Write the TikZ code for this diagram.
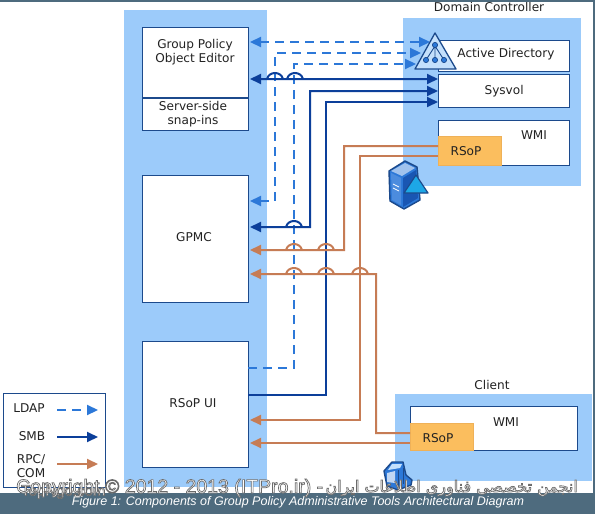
\documentclass[tikz,border=0pt]{standalone}
\usepackage{fontspec}
\setmainfont{DejaVu Sans}
\newfontfamily\capfont{Liberation Sans}
\newfontfamily\arabicfont[Script=Arabic]{DejaVu Sans}
\TeXXeTstate=1
\usetikzlibrary{arrows.meta,calc}
\definecolor{areablue}{HTML}{9CCBFA}
\definecolor{navy}{HTML}{1C4A8C}
\definecolor{ldapc}{HTML}{2C78D8}
\definecolor{smbc}{HTML}{0C3F9A}
\definecolor{rpcc}{HTML}{C67C55}
\definecolor{rsopc}{HTML}{FBBE5E}
\definecolor{bandc}{HTML}{4E6B7E}
\definecolor{txtc}{HTML}{222222}
\tikzset{
  x=1pt,y=-1pt,
  >={Triangle[length=11pt,width=10pt]},
  area/.style={fill=areablue,draw=none},
  box/.style={draw=navy,line width=1.2pt,fill=white,inner sep=0pt,anchor=north west,text=txtc,font=\fontsize{12.1}{14}\selectfont,align=center},
  rsopbox/.style={draw=rsopc!80!brown,line width=1pt,fill=rsopc,inner sep=0pt,anchor=north west},
  lbl/.style={text=txtc,font=\fontsize{12.1}{14}\selectfont,align=center,inner sep=0pt},
  ldap/.style={draw=ldapc,line width=2.2pt,dash pattern=on 9pt off 6pt},
  smb/.style={draw=smbc,line width=2pt},
  rpc/.style={draw=rpcc,line width=2pt},
  wmark/.style={text=white,inner sep=0pt},
}
\newcommand{\hopat}[2]{-- (#1+8,#2) .. controls (#1+6,#2-8) and (#1-6,#2-8) .. (#1-8,#2)}
\newcommand{\outl}[1]{\special{pdf: code q 2 Tr 0.7 w 0.42 G}#1\special{pdf: code Q}}
\begin{document}
\begin{tikzpicture}
\useasboundingbox (0,0) rectangle (595,514);
\fill[white] (0,0) rectangle (595,514);
\fill[area] (124,10) rectangle (267,487);
\fill[area] (403,18) rectangle (581,186);
\fill[area] (395,394) rectangle (592,481);
% left boxes
\node[box,minimum width=106pt,minimum height=103pt] (gpo) at (142,27) {};
\node[lbl] (gpot) at (195,52.5) {Group Policy\\Object Editor};
\draw[navy,line width=1.2pt] (142,98) coordinate (dl) -- (248,98) coordinate (dr);
\node[lbl] (snap) at (193,114) {Server-side\\snap-ins};
\node[box,minimum width=106pt,minimum height=127pt] (gpmc) at (142,175) {};
\node[lbl] (gpmct) at (194,237) {GPMC};
\node[box,minimum width=106pt,minimum height=126pt] (rsopui) at (142,341) {};
\node[lbl] (rsopuit) at (193,403) {RSoP UI};
% DC
\node[lbl] (dc) at (489,7) {Domain Controller};
\node[box,minimum width=131pt,minimum height=31pt] (ad) at (438,40) {};
\node[lbl] (adt) at (506,54) {Active Directory};
\node[box,minimum width=131pt,minimum height=33pt] (sysvol) at (438,74) {Sysvol};
\node[box,minimum width=131pt,minimum height=45pt] (wmi) at (438,120) {};
\node[lbl] (wmit) at (534,135) {WMI};
\node[rsopbox,minimum width=63pt,minimum height=29pt] (rsop) at (438,136) {};
\node[lbl] (rsopt) at (466,151) {RSoP};
% client
\node[lbl] (cl) at (492,385) {Client};
\node[box,minimum width=167pt,minimum height=44pt] (cwmi) at (410,406) {};
\node[lbl] (cwmit) at (506,422) {WMI};
\node[rsopbox,minimum width=63pt,minimum height=27pt] (crsop) at (410,423) {};
\node[lbl] (crsopt) at (438,438) {RSoP};
% anchors on the boxes
\coordinate (g1) at (250,42);
\coordinate (g2) at (250,201);
\coordinate (g3) at (248,368);
\coordinate (s1) at (250,79);
\coordinate (s2) at (250,227);
\coordinate (s3) at (248,395);
\coordinate (r1) at (250,250);
\coordinate (r2) at (250,420);
\coordinate (r3) at (250,274);
\coordinate (r4) at (250,443);
\coordinate (t1) at (430,42);
\coordinate (t2) at (421,53);
\coordinate (t3) at (416,64);
% LDAP
\draw[ldap,<->] (g1) -- (t1);
\draw[ldap,<->] (g2) -- (275,201) -- (275,53) -- (t2);
\draw[ldap,->] (g3) -- (294,368) -- (294,64) -- (t3);
% SMB
\draw[smb,<->] (s1) \hopat{275}{79} \hopat{295}{79} -- (sysvol.west |- 0,79);
\draw[smb,<->] (s2) \hopat{294}{227} -- (310,227) -- (310,91) -- (sysvol.west |- 0,91);
\draw[smb,->] (s3) -- (326,395) -- (326,102) -- (sysvol.west |- 0,102);
% RPC
\draw[rpc,<-] (r1) \hopat{294}{250} \hopat{326}{250} -- (344,250) -- (344,146) -- (rsop.west |- 0,146);
\draw[rpc,<-] (r2) -- (360,420) -- (360,156) -- (rsop.west |- 0,156);
\draw[rpc,<-] (r3) \hopat{294}{274} \hopat{326}{274} \hopat{360}{274} -- (376,274) -- (376,433) -- (crsop.west |- 0,433);
\draw[rpc,<-] (r4) -- (crsop.west |- 0,443);
% AD triangle
\draw[navy,line width=1.3pt,fill=areablue!60!white,line join=round] (435,33) coordinate (ap) -- (456,69) -- (415,69) -- cycle;
\draw[navy,line width=.9pt] (435,46) -- (426,60) (435,46) -- (435,60) (435,46) -- (444,60);
\foreach \p in {(435,45),(426,60),(435,60),(444,60)} \filldraw[draw=navy,fill=ldapc,line width=.7pt] \p circle (2.6);
% server icon
\draw[navy,line width=1.4pt,fill=ldapc,line join=round] (389,171) -- (405,161) -- (417,167) -- (420,200) -- (404,209) -- (390,201) -- cycle;
\fill[ldapc!45!white] (391,171) -- (405,163) -- (415,168) -- (402,176) -- cycle;
\fill[ldapc!85!white] (391,173) -- (401,178) -- (401,205) -- (392,200) -- cycle;
\fill[smbc!60!ldapc] (403,178) -- (416,170) -- (418,198) -- (403,207) -- cycle;
\draw[white,line width=.7pt] (393,184) -- (399,187) (393,188) -- (399,191);
\draw[navy,line width=1.2pt,fill=ldapc!65!cyan,line join=round] (416,175) -- (428,193) -- (404,193) -- cycle;
% client icon
\draw[navy,line width=1.4pt,fill=ldapc,line join=round] (384,471) -- (392,462) -- (403,462) -- (406,475) -- (412,480) -- (411,485) -- (398,490) -- (387,486) -- cycle;
\fill[areablue!60!white] (392,464) -- (402,464) -- (400,468) -- (388,470) -- cycle;
\fill[white!70!ldapc] (387,473) -- (395,471) -- (395,483) -- (387,482) -- cycle;
\draw[navy,line width=.9pt] (398,470) -- (398,488) (403,468) -- (403,484);
% legend
\node[box,minimum width=102pt,minimum height=94pt] (legend) at (3,393) {};
\node[lbl] (l1) at (29,408) {LDAP};
\node[lbl] (l2) at (32,436) {SMB};
\node[lbl] (l3) at (31,466) {RPC/\\COM};
\coordinate (a1) at (57,410); \coordinate (b1) at (98,410);
\coordinate (a2) at (57,437); \coordinate (b2) at (98,437);
\coordinate (a3) at (57,464); \coordinate (b3) at (98,464);
\draw[ldap,->] (a1) -- (b1);
\draw[smb,->] (a2) -- (b2);
\draw[rpc,->] (a3) -- (b3);
% band
\fill[bandc] (0,493) rectangle (595,514);
\fill[bandc] (0,0) rectangle (595,1.5);
\fill[bandc] (593,0) rectangle (595,514);
% watermark and caption
\node[wmark,font=\capfont\fontsize{15}{15}\selectfont,anchor=west] (tn) at (21,492) {\outl{TopNgo.com}};
\node[wmark,font=\capfont\fontsize{19.5}{19.5}\selectfont,anchor=west] (cr) at (16,488) {\outl{Copyright © 2012 - 2013 (ITPro.ir) -}};
\node[wmark,font=\arabicfont\fontsize{16}{16}\selectfont,anchor=east] (fa) at (578,488) {\outl{\beginR انجمن تخصصی فناوری اطلاعات ایران\endR}};
\node[text=white,font=\capfont\itshape\fontsize{12.5}{12}\selectfont,inner sep=0pt] (cap) at (298,502) {Figure 1: Components of Group Policy Administrative Tools Architectural Diagram};
\end{tikzpicture}
\end{document}
